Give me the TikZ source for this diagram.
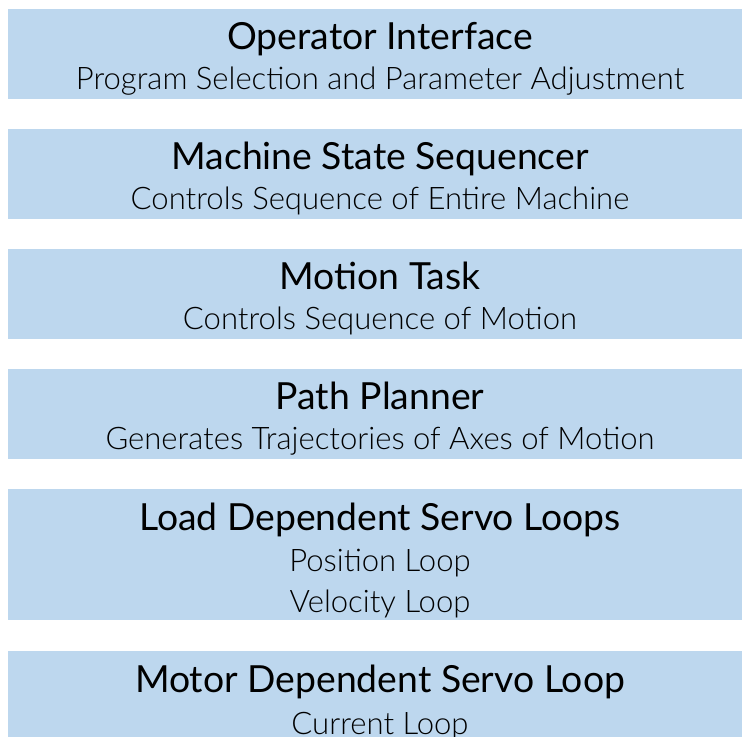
\documentclass[tikz,border=0pt]{standalone}
\usepackage{fontspec}
\setmainfont{Lato}
\newfontfamily\sublight{Lato Light}
\definecolor{boxblue}{HTML}{BDD7EE}
\begin{document}
\begin{tikzpicture}[x=0.75pt,y=-0.75pt,
  layer/.style={fill=boxblue,draw=none},
  ttl/.style={anchor=base,inner sep=0pt,font=\fontsize{28}{31}\selectfont},
  sub/.style={anchor=base,inner sep=0pt,font=\sublight\fontsize{23.3}{27}\selectfont}]
\useasboundingbox (0,0) rectangle (742,737);
\fill[layer] (8,9) rectangle (742,99);
\fill[layer] (8,129) rectangle (742,219);
\fill[layer] (8,249) rectangle (742,339);
\fill[layer] (8,369) rectangle (742,459);
\fill[layer] (8,489) rectangle (742,620);
\fill[layer] (8,651) rectangle (742,737);
\node[ttl] (t1) at (380,50) {Operator Interface};
\node[sub] (s1) at (380,90) {Program Selection and Parameter Adjustment};
\node[ttl] (t2) at (380,170) {Machine State Sequencer};
\node[sub] (s2) at (380,210) {Controls Sequence of Entire Machine};
\node[ttl] (t3) at (380,290) {Motion Task};
\node[sub] (s3) at (380,330) {Controls Sequence of Motion};
\node[ttl] (t4) at (380,410) {Path Planner};
\node[sub] (s4) at (380,450) {Generates Trajectories of Axes of Motion};
\node[ttl] (t5) at (380,530) {Load Dependent Servo Loops};
\node[sub] (s5a) at (380,571) {Position Loop};
\node[sub] (s5b) at (380,612) {Velocity Loop};
\node[ttl] (t6) at (380,692) {Motor Dependent Servo Loop};
\node[sub] (s6) at (380,734) {Current Loop};
\end{tikzpicture}
\end{document}
